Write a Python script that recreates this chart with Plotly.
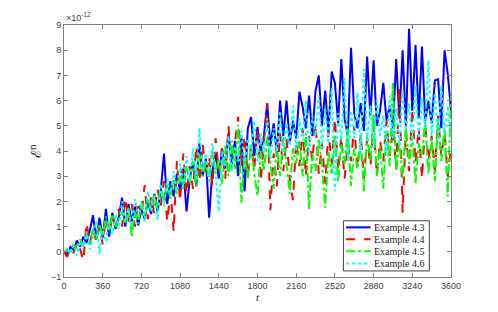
import plotly.graph_objects as go

# Energy error (units of 1e-12), sampled every 30 time units from t=0 to 3600
ex43 = [0.0, -0.1, 0.2, 0.05, 0.45, 0.2, 0.6, 0.35, 0.85, 1.45,
        0.5, 1.35, 0.55, 1.7, 0.6, 1.55, 0.9, 1.4, 2.15, 1.0,
        1.9, 1.2, 1.8, 1.05, 1.7, 1.3, 2.0, 1.5, 2.3, 1.6,
        2.4, 3.9, 1.9, 2.8, 2.2, 3.1, 2.4, 3.3, 1.6, 2.9,
        3.6, 2.6, 4.3, 3.0, 3.7, 1.35, 3.2, 3.9, 2.9, 4.1,
        3.3, 4.7, 3.5, 4.4, 3.0, 4.6, 2.4, 4.9, 5.35, 3.8,
        4.95, 3.9, 4.6, 5.9, 4.2, 5.1, 3.9, 6.0, 4.6, 6.0,
        4.3, 5.2, 4.5, 6.35, 5.75, 4.9, 6.2, 4.6, 6.4, 7.0,
        5.0, 6.4, 4.7, 7.15, 6.7, 5.1, 7.65, 5.3, 4.6, 8.1,
        5.5, 4.9, 5.9, 4.8, 7.75, 5.4, 7.6, 5.0, 5.6, 6.7,
        5.2, 5.8, 4.9, 7.65, 5.3, 8.0, 5.0, 8.85, 5.6, 8.2,
        5.3, 8.15, 5.2, 6.0, 5.1, 6.8, 6.85, 4.9, 8.0, 7.05,
        5.6]
ex44 = [0.0, -0.2, 0.1, -0.05, 0.35, 0.1, -0.35, 1.15, 0.3, 0.9,
        0.4, 1.0, 0.3, 1.3, 0.7, 1.5, 0.8, 1.7, 1.0, 2.15,
        1.2, 1.9, 1.0, 2.0, 1.4, 2.65, 1.3, 2.2, 1.5, 2.5,
        1.8, 2.8, 1.2, 2.4, 0.8, 3.6, 2.0, 3.9, 2.3, 3.4,
        2.5, 4.2, 2.8, 4.3, 3.0, 3.8, 2.6, 4.5, 3.2, 4.1,
        2.9, 5.0, 3.3, 4.4, 5.35, 3.4, 4.6, 3.0, 4.2, 3.3,
        4.8, 2.8, 4.3, 5.9, 1.65, 3.9, 2.6, 4.7, 3.2, 4.5,
        2.9, 2.05, 4.4, 3.4, 4.9, 3.0, 4.6, 3.6, 5.1, 3.1,
        4.3, 2.7, 4.8, 3.5, 5.3, 3.2, 4.6, 2.9, 4.4, 3.6,
        5.0, 3.3, 4.7, 2.9, 4.5, 3.4, 5.0, 3.0, 4.4, 3.6,
        5.2, 3.8, 4.9, 3.3, 6.5, 1.55, 4.8, 3.2, 5.7, 3.5,
        4.9, 2.9, 5.1, 3.6, 4.6, 3.2, 5.4, 3.8, 4.7, 3.0,
        4.2]
ex45 = [0.0, 0.1, -0.1, 0.3, 0.1, 0.5, 0.2, 0.7, 0.4, 0.9,
        0.5, 1.1, 0.6, 1.4, 0.8, 1.5, 1.0, 1.3, 1.6, 1.1,
        1.8, 0.6, 1.6, 1.1, 2.0, 1.4, 2.1, 1.6, 2.3, 1.7,
        2.6, 2.0, 2.7, 2.1, 2.9, 2.3, 3.2, 2.5, 3.4, 2.7,
        3.6, 2.6, 3.9, 3.0, 3.6, 2.8, 4.0, 3.1, 3.7, 2.7,
        4.2, 3.0, 4.4, 3.3, 5.05, 1.95, 3.8, 2.9, 4.3, 3.1,
        2.2, 4.0, 3.2, 4.5, 3.4, 2.5, 4.2, 3.0, 4.6, 3.3,
        2.3, 4.1, 3.5, 4.4, 3.0, 4.7, 1.7, 3.9, 3.2, 4.5,
        3.4, 1.75, 4.0, 3.1, 4.6, 2.8, 4.3, 3.5, 4.9, 2.6,
        4.1, 3.3, 4.5, 2.4, 4.7, 3.6, 5.5, 3.0, 4.2, 2.5,
        4.8, 3.4, 6.7, 3.2, 4.4, 2.9, 5.0, 3.5, 4.6, 2.7,
        4.3, 3.8, 5.2, 3.1, 4.5, 2.8, 5.3, 3.6, 4.9, 2.2,
        6.2]
ex46 = [0.0, 0.15, -0.05, 0.3, -0.15, 0.4, 0.2, 0.8, 0.1, 0.7,
        1.2, -0.1, 0.9, 0.4, 1.2, 0.7, 1.5, 0.9, 2.0, 1.2,
        1.7, 1.0, 2.1, 1.4, 1.9, 1.2, 2.4, 1.6, 2.2, 1.25,
        2.7, 1.8, 2.9, 2.2, 3.2, 2.4, 3.5, 2.6, 3.8, 2.8,
        4.1, 2.9, 4.9, 3.2, 3.9, 2.7, 4.3, 3.1, 1.6, 4.0,
        3.4, 4.6, 3.2, 4.2, 3.6, 4.8, 3.3, 4.5, 3.8, 5.2,
        3.6, 4.7, 3.9, 5.3, 3.7, 4.9, 4.0, 5.6, 3.8, 5.1,
        4.2, 5.8, 4.0, 5.3, 4.4, 6.0, 3.9, 5.4, 4.6, 6.2,
        4.1, 5.7, 4.3, 6.5, 2.4, 5.5, 4.4, 6.9, 3.6, 5.6,
        4.5, 6.3, 3.9, 7.25, 4.4, 5.8, 4.1, 6.0, 4.6, 5.4,
        3.8, 6.2, 4.5, 5.7, 4.2, 6.4, 4.8, 5.9, 4.3, 6.6,
        4.5, 6.1, 4.9, 7.6, 4.6, 6.3, 4.4, 6.6, 4.7, 5.8,
        4.5]

names = ["Example 4.3", "Example 4.4", "Example 4.5", "Example 4.6"]
series = [ex43, ex44, ex45, ex46]
colors = ["#0000FF", "#FF0000", "#00FF00", "#00FFFF"]
dashes = ["solid", "dash", "dashdot", "dot"]

x_ticks = [0, 360, 720, 1080, 1440, 1800, 2160, 2520, 2880, 3240, 3600]
y_ticks = [-1, 0, 1, 2, 3, 4, 5, 6, 7, 8, 9]

fig = go.Figure()
for name, ys, c, d in zip(names, series, colors, dashes):
    fig.add_trace(go.Scatter(
        x=[30 * i for i in range(len(ys))], y=ys, mode="lines", name=name,
        line=dict(color=c, dash=d, width=2), showlegend=False))

axis_common = dict(showgrid=False, zeroline=False, showline=True, mirror="ticks",
                   linecolor="#808080", linewidth=1, ticks="inside", ticklen=4,
                   tickcolor="#808080",
                   tickfont=dict(family="Liberation Sans, Arial", size=9, color="#404040"))

# Custom compact legend (MATLAB style), in paper coordinates
leg_x0, leg_x1, leg_y0, leg_y1 = 0.722, 0.944, 0.024, 0.223
row_y = [0.197, 0.150, 0.102, 0.054]
shapes = [dict(type="rect", xref="paper", yref="paper", x0=leg_x0, x1=leg_x1,
               y0=leg_y0, y1=leg_y1, fillcolor="white",
               line=dict(color="#404040", width=1), layer="above")]
annotations = []
for name, c, d, ry in zip(names, colors, dashes, row_y):
    shapes.append(dict(type="line", xref="paper", yref="paper", x0=0.729, x1=0.792,
                       y0=ry, y1=ry, line=dict(color=c, dash=d, width=2), layer="above"))
    annotations.append(dict(text=name, xref="paper", yref="paper", x=0.797, y=ry,
                            xanchor="left", yanchor="middle", showarrow=False,
                            font=dict(family="Liberation Serif, serif", size=10,
                                      color="#202020")))

annotations += [
    dict(text="×10<sup>-12</sup>", xref="paper", yref="paper", x=0.0, y=1.0,
         xanchor="left", yanchor="bottom", showarrow=False,
         font=dict(family="Liberation Sans, Arial", size=9, color="#404040")),
    dict(text="<i>t</i>", xref="paper", yref="paper", x=0.5, y=-0.053,
         xanchor="center", yanchor="top", showarrow=False, borderpad=0,
         font=dict(family="Liberation Serif, serif", size=11, color="#202020")),
    dict(text="ℰ<sup>n</sup>", xref="paper", yref="paper", x=-0.045, y=0.5,
         xanchor="right", yanchor="middle", showarrow=False, textangle=-90,
         font=dict(family="Liberation Serif, DejaVu Serif, serif", size=14, color="#202020")),
]

# The page body adds an 8 px offset; size and margins compensate for it
fig.update_layout(
    width=482, height=296,
    margin=dict(l=56, r=39, t=15, b=27),
    paper_bgcolor="white", plot_bgcolor="white",
    xaxis=dict(range=[0, 3600], tickvals=x_ticks, **axis_common),
    yaxis=dict(range=[-1, 9], tickvals=y_ticks, **axis_common),
    showlegend=False,
    shapes=shapes,
    annotations=annotations,
)

fig.write_html("out.html")
